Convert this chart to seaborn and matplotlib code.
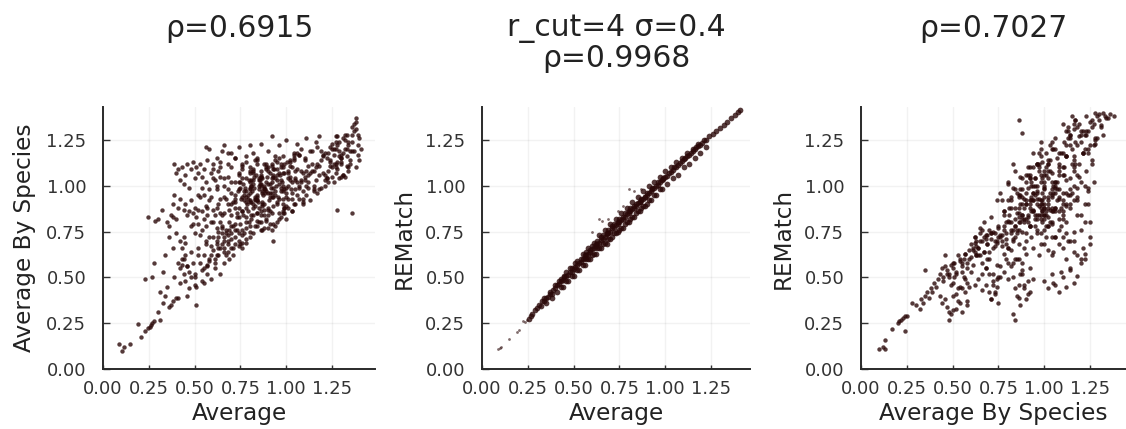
"""
Three scatter panels comparing similarity kernels, values read off the picture.
"""

import matplotlib
matplotlib.use("Agg")
import matplotlib.pyplot as plt
import pandas as pd
import seaborn as sns

# Panel 1: Average vs Average By Species
AVG_1 = [
    .09, .105, .115, .145, .19, .21, .23, .245, .26, .27, .28, .255,
    .245, .23, .27, .28, .285, .30, .32, .31, .33, .34, .30, .31,
    .33, .35, .36, .37, .38, .39, .40, .41, .42, .34, .36, .38,
    .35, .37, .38, .39, .40, .41, .42, .43, .44, .45, .36, .38,
    .40, .42, .43, .41, .44, .45, .46, .47, .48, .49, .50, .46,
    .39, .40, .41, .42, .43, .44, .45, .46, .47, .48, .49, .50,
    .51, .52, .53, .54, .55, .56, .57, .58, .59, .60, .61, .62,
    .63, .64, .65, .52, .54, .56, .58, .60, .62, .64, .66, .68,
    .42, .44, .45, .46, .47, .48, .49, .50, .51, .52, .53, .54,
    .55, .56, .57, .58, .59, .60, .48, .50, .52, .54, .56, .58,
    .50, .52, .54, .55, .56, .57, .58, .59, .60, .61, .62, .63,
    .64, .65, .66, .67, .68, .69, .70, .71, .72, .62, .64, .66,
    .60, .62, .63, .64, .65, .66, .67, .68, .69, .70, .71, .72,
    .73, .74, .75, .76, .77, .78, .70, .72, .74, .76, .78, .80,
    .62, .64, .66, .68, .70, .72, .74, .76, .78, .80, .66, .68,
    .70, .72, .74, .76, .78, .80, .82, .84, .66, .68, .70, .72,
    .74, .76, .78, .80, .82, .84, .70, .72, .74, .76, .78, .80,
    .81, .82, .83, .84, .85, .86, .87, .88, .89, .90, .91, .92,
    .79, .81, .83, .85, .87, .89, .91, .93, .95, .97, .99, 1.01,
    .80, .82, .84, .86, .88, .90, .92, .94, .96, .98, 1.00, 1.02,
    .78, .80, .82, .84, .86, .88, .90, .92, .94, .96, .98, 1.00,
    .81, .83, .85, .87, .89, .91, .93, .95, .97, .99, 1.01, 1.03,
    .82, .84, .86, .88, .90, .92, .94, .96, .98, 1.00, 1.02, 1.04,
    .85, .87, .89, .91, .93, .95, .97, .99, 1.01, 1.03, 1.05, 1.07,
    .84, .86, .88, .90, .92, .94, .96, .98, 1.00, 1.02, 1.04, 1.06,
    .86, .90, .93, .90, .93, .96, 1.00, .88, .92, .95, .98, 1.02,
    1.04, 1.06, 1.08, 1.10, 1.12, 1.14, 1.16, 1.18, 1.20, 1.22, 1.24, 1.26,
    1.05, 1.07, 1.09, 1.11, 1.13, 1.15, 1.17, 1.19, 1.21, 1.23, 1.25, 1.27,
    1.03, 1.06, 1.09, 1.12, 1.15, 1.18, 1.21, 1.24, 1.27, 1.30, 1.32, 1.34,
    1.08, 1.10, 1.12, 1.14, 1.16, 1.18, 1.20, 1.22, 1.24, 1.26, 1.28, 1.30,
    1.25, 1.27, 1.29, 1.31, 1.33, 1.35, 1.26, 1.28, 1.30, 1.32, 1.34, 1.36,
    1.28, 1.30, 1.31, 1.33, 1.35, 1.36, 1.37, 1.38, 1.39, 1.40, 1.41, 1.37,
    1.38, 1.39, 1.36, 1.38, 1.40, 1.39, 1.37, 1.38, 1.28, 1.36, .51, .93,
    # denser parts of the cloud
    .755, .775, .795, .815, .835, .855, .875, .895, .915, .935, .955, .975,
    .765, .785, .805, .825, .845, .865, .885, .905, .925, .945, .965, .985,
    .745, .77, .79, .81, .83, .85, .87, .89, .91, .93, .95, .97,
    .99, 1.01, 1.03, 1.05, .985, 1.005, 1.025, 1.045, .80, .83, .86, .89,
    .72, .735, .75, .765, .78, .795, .81, .825, .84, .855, .87, .885,
    .95, .97, .99, 1.01, 1.03, 1.05, 1.07, 1.09, 1.11, 1.13, 1.15, 1.17,
    1.19, 1.21, 1.23, 1.25, 1.27, 1.29, 1.31, 1.33, .92, .94, .96, .98,
    .53, .55, .57, .59, .61, .63, .65, .67, .69, .71, .73, .75,
    .66, .68, .70, .72, .74, .76, .78, .68, .70, .72, .74, .76,
    .80, .82, .84, .86, .80, .82, .84, .86, .88, .90, .78, .76,
    .55, .57, .59, .61, .63, .65, .67, .69, .71, .73, .75, .77,
    .60, .62, .64, .66, .68, .70, .72, .74, .76, .78, .80, .82,
    1.06, 1.08, 1.10, 1.12, 1.14, 1.16, 1.18, 1.20, 1.22, 1.24, 1.26, 1.28,
    1.07, 1.09, 1.11, 1.13, 1.15, 1.17, 1.19, 1.21, 1.23, 1.25, 1.27, 1.29,
    1.30, 1.32, 1.34, 1.36, 1.31, 1.33, 1.35, 1.30, 1.32, 1.34, 1.29, 1.27,
    .77, .80, .83, .86, .89, .92, .95, .98, 1.01, 1.04, 1.07, 1.10,
    .76, .79, .82, .85, .88, .91, .94, .97, 1.00, 1.03, 1.06, 1.09,
    .78, .81, .84, .87, .90, .93, .96, .99, 1.02, 1.05, 1.08, 1.11,
    .44, .46, .48, .50, .52, .54, .56, .58, .60, .62, .64, .66,
    .43, .45, .47, .49, .51, .53, .55, .57, .59, .61, .63, .65,
]
SPECIES_1 = [
    .135, .10, .12, .135, .245, .175, .21, .225, .24, .25, .26, .23,
    .83, .49, .50, .58, .81, .82, .87, .42, .36, .40, .31, .27,
    .53, .45, .34, .35, .37, .50, .39, .39, .47, .62, .72, .66,
    .80, .84, .90, .95, .74, .58, .55, .60, .52, .48, .78, .83,
    .82, .70, .66, .88, .72, .62, .56, .44, .50, .58, .46, .40,
    1.12, 1.07, 1.09, 1.03, 1.10, 1.01, 1.06, 1.12, .99, 1.09, 1.13, 1.04,
    1.10, 1.07, 1.12, 1.05, 1.09, 1.21, 1.14, 1.20, 1.07, 1.12, 1.03, 1.15,
    1.08, 1.13, 1.19, .95, .99, 1.02, .98, 1.04, 1.00, 1.05, 1.22, 1.18,
    .93, .87, .90, .84, .86, .92, .85, .88, .83, .87, .94, .86,
    .82, .89, .84, .92, .80, .87, .78, .74, .79, .76, .78, .72,
    .52, .62, .48, .55, .68, .52, .60, .49, .65, .55, .70, .62,
    .52, .68, .58, .74, .64, .60, .71, .62, .68, .77, .80, .72,
    .72, .68, .75, .66, .78, .70, .76, .68, .80, .74, .78, .72,
    .76, .70, .79, .66, .74, .71, .84, .88, .83, .86, .80, .75,
    .88, .93, .85, .90, .96, .91, .98, .94, .88, .92, 1.00, 1.05,
    1.10, 1.02, 1.07, 1.12, 1.04, .98, 1.08, 1.14, .94, .98, .90, .95,
    1.02, .86, .94, .99, .90, .85, 1.18, 1.15, 1.21, 1.09, 1.13, 1.22,
    .82, .88, .78, .92, .80, .86, .76, .90, .82, .87, .79, .85,
    .95, 1.00, .93, 1.04, .96, 1.02, .94, .99, .91, .97, .88, .93,
    1.08, 1.03, 1.12, 1.06, 1.00, 1.10, 1.04, 1.14, 1.01, 1.07, .96, 1.03,
    .97, .91, 1.01, .94, 1.05, .98, 1.08, .96, 1.04, .93, 1.00, .89,
    .84, .92, 1.00, .89, .97, .86, 1.06, .90, 1.10, .98, 1.07, .93,
    1.18, 1.15, 1.23, 1.12, 1.19, 1.27, 1.16, 1.22, 1.10, 1.25, 1.14, 1.18,
    1.03, .97, 1.09, 1.01, .94, 1.06, .99, 1.12, 1.04, .96, 1.08, 1.00,
    .92, 1.05, .99, .88, 1.02, .95, 1.07, .85, .99, 1.11, .90, 1.02,
    1.01, .96, 1.05, .84, .79, .85, .82, .77, 1.12, 1.09, 1.16, 1.13,
    1.14, .95, 1.20, 1.03, .99, 1.08, 1.24, .98, 1.17, 1.04, 1.21, 1.12,
    1.03, 1.17, .90, 1.26, 1.07, 1.00, 1.12, 1.19, 1.06, 1.18, 1.10, 1.24,
    .86, 1.23, .93, 1.11, .98, 1.27, 1.03, 1.14, 1.20, 1.13, 1.05, 1.22,
    1.08, 1.14, 1.02, 1.19, 1.10, 1.06, 1.16, 1.04, 1.13, 1.20, 1.09, 1.15,
    1.23, 1.10, 1.16, 1.06, 1.20, 1.12, 1.02, 1.27, 1.15, 1.25, 1.08, 1.19,
    1.22, 1.05, 1.18, 1.28, 1.14, 1.24, 1.19, 1.10, 1.17, 1.14, 1.20, 1.30,
    1.35, 1.28, 1.32, 1.31, 1.26, 1.22, 1.34, 1.37, .87, .85, .35, .70,
    # denser parts of the cloud
    .93, .99, 1.03, .97, 1.06, 1.01, .95, 1.05, .99, 1.09, .94, 1.02,
    1.01, .90, .96, 1.05, .91, 1.08, .98, .92, 1.11, 1.00, 1.06, .97,
    .88, .95, .86, 1.00, .94, .88, 1.04, 1.10, .96, .89, 1.13, 1.03,
    1.07, 1.00, 1.10, 1.04, .93, 1.13, .98, 1.17, 1.10, 1.14, .84, .81,
    .93, .97, 1.02, .84, .91, .80, .91, .99, .85, 1.03, .90, .96,
    .80, .83, .85, .88, .86, .90, .93, .91, .95, .92, .97, .96,
    .99, 1.00, 1.02, 1.05, 1.07, 1.04, 1.06, 1.11, .76, .78, .82, .86,
    .58, .47, .57, .62, .60, .66, .74, .62, .76, .66, .83, .68,
    .64, .70, .66, .76, .67, .73, .69, .73, .78, .79, .74, .69,
    .72, .74, .78, .80, .78, .84, .81, .76, .84, .77, .77, .76,
    .95, .88, .94, .84, .90, .84, .93, .87, .91, .85, .99, .92,
    1.09, .98, 1.10, 1.04, 1.12, 1.02, 1.15, 1.06, 1.11, 1.16, 1.02, 1.07,
    1.09, 1.02, 1.15, 1.06, 1.12, 1.03, 1.11, 1.07, 1.15, 1.11, 1.17, 1.13,
    1.17, 1.07, 1.00, 1.19, 1.08, 1.21, 1.14, 1.18, 1.08, 1.20, 1.12, 1.24,
    1.17, 1.20, 1.24, 1.28, 1.26, 1.16, 1.19, 1.12, 1.28, 1.10, 1.19, 1.27,
    .97, 1.07, .89, 1.00, 1.12, .94, 1.03, .90, 1.08, 1.15, .99, 1.05,
    1.04, .93, 1.09, .98, .87, 1.07, .97, 1.12, .94, 1.02, 1.18, .97,
    .83, 1.03, .95, .91, 1.01, 1.09, 1.15, .88, 1.05, .98, 1.03, 1.08,
    .60, .56, .64, .50, .66, .54, .70, .59, .80, .62, .85, .66,
    .57, .69, .53, .79, .45, .73, .62, .56, .67, .58, .72, .77,
]

# Panel 2: Average vs REMatch, isolated points first, then the dense band
TAIL_X_2 = [.09, .10, .105, .15, .19, .20, .225, .235, .245, .64, .655, .69,
            .60, .77, .74, .80, .83, .87]
TAIL_Y_2 = [.11, .115, .12, .165, .20, .215, .26, .255, .27, .82, .81, .82,
            .75, .89, .86, .98, .97, .98]
AVG_2 = [
    .255, .265, .275,
    .29, .30, .31, .32, .33, .34, .35, .36, .37, .38, .39, .40,
    .41, .42, .43, .44, .45, .46, .47, .48, .49, .50, .51, .52,
    .53, .54, .55, .56, .57, .58, .59, .60, .61, .62, .63, .64,
    .65, .66, .67, .68, .69, .70, .71, .72, .73, .74, .75, .76,
    .77, .78, .79, .80, .81, .82, .83, .84, .85, .86, .87, .88,
    .89, .90, .91, .92, .93, .94, .95, .96, .97, .98, .99, 1.00,
    1.01, 1.02, 1.03, 1.04, 1.05, 1.06, 1.07, 1.08, 1.09, 1.10, 1.11, 1.12,
    1.13, 1.14, 1.15, 1.16, 1.17, 1.18, 1.19, 1.20, 1.22, 1.24, 1.26, 1.28,
    1.30, 1.32, 1.34, 1.36, 1.38, 1.40, 1.41,
    .34, .37, .40, .43, .46, .49, .52, .55, .58, .61, .64, .67,
    .70, .73, .76, .79, .82, .85, .88, .91, .94, .97, 1.00, 1.03,
    1.06, 1.09, 1.12, 1.15, 1.18, 1.21,
    .35, .38, .41, .44, .47, .50, .53, .56, .59, .62, .65, .68,
    .71, .74, .77, .80, .83, .86, .89, .92, .95, .98, 1.01, 1.04,
    1.07, 1.10, 1.13, 1.16, 1.19, 1.22,
    .42, .45, .48, .51, .54, .57, .60, .63, .66, .69, .72, .75,
    .78, .81, .84, .87, .90, .93, .96, .99,
    .43, .46, .49, .52, .55, .58, .61, .64, .67, .70, .73, .76,
    .79, .82, .85, .88, .91, .94, .97,
    .56, .59, .62, .65, .68, .71, .74, .77, .80, .83, .86, .89,
    .57, .60, .63, .66, .69, .72, .75, .78, .81, .84, .87, .90,
]
REMATCH_2 = [
    .275, .29, .30,
    .32, .335, .35, .345, .37, .37, .385, .395, .41, .41, .43, .44,
    .46, .465, .48, .485, .50, .505, .515, .53, .53, .545, .555, .565,
    .58, .585, .60, .605, .625, .63, .64, .655, .66, .67, .685, .69,
    .705, .71, .72, .735, .74, .75, .77, .77, .785, .79, .80, .815,
    .82, .83, .845, .85, .86, .875, .88, .89, .905, .91, .92, .93,
    .94, .95, .96, .97, .98, .99, 1.00, 1.005, 1.02, 1.03, 1.035, 1.05,
    1.055, 1.07, 1.075, 1.085, 1.10, 1.105, 1.115, 1.125, 1.135, 1.145, 1.15, 1.16,
    1.17, 1.18, 1.19, 1.20, 1.21, 1.215, 1.225, 1.235, 1.25, 1.27, 1.285, 1.30,
    1.315, 1.33, 1.35, 1.37, 1.385, 1.405, 1.415,
    .39, .42, .46, .49, .53, .55, .59, .63, .66, .69, .73, .76,
    .79, .82, .85, .88, .91, .94, .97, 1.00, 1.02, 1.05, 1.08, 1.10,
    1.13, 1.15, 1.18, 1.20, 1.23, 1.25,
    .36, .39, .42, .45, .48, .51, .54, .57, .60, .63, .66, .68,
    .72, .75, .77, .80, .83, .86, .89, .92, .95, .98, 1.01, 1.04,
    1.06, 1.10, 1.12, 1.15, 1.18, 1.21,
    .48, .51, .55, .58, .60, .64, .67, .70, .73, .76, .79, .82,
    .85, .88, .90, .93, .96, .99, 1.02, 1.04,
    .45, .48, .51, .54, .57, .60, .63, .66, .69, .71, .74, .77,
    .80, .83, .86, .89, .92, .95, .98,
    .62, .65, .68, .72, .74, .78, .80, .83, .86, .89, .91, .94,
    .60, .62, .66, .68, .71, .74, .76, .79, .82, .85, .88, .90,
]

# Panel 3: Average By Species vs REMatch
SPECIES_3 = [
    .10, .12, .13, .13, .17, .20, .21, .22, .23, .24, .24, .25,
    .28, .30, .32, .33, .34, .35, .36, .37, .38, .39, .40, .41,
    .35, .42, .43, .44, .45, .46, .47, .48, .49, .50, .51, .52,
    .43, .44, .46, .47, .48, .48, .50, .52, .53, .55, .57, .58,
    .53, .54, .55, .56, .57, .58, .59, .60, .61, .62, .63, .64,
    .48, .50, .52, .54, .56, .58, .60, .62, .64, .66, .68, .62,
    .60, .62, .64, .65, .66, .67, .68, .69, .70, .71, .72, .73,
    .74, .75, .76, .77, .78, .79, .80, .63, .65, .67, .69, .71,
    .66, .68, .70, .72, .74, .76, .78, .80, .82, .84, .86, .88,
    .68, .70, .71, .72, .73, .74, .75, .66, .76, .78, .79, .80,
    .82, .83, .84, .85, .86, .87, .88, .89, .90, .91, .92, .94,
    .82, .84, .86, .88, .90, .92, .94, .96, .98, 1.00, 1.02, 1.04,
    .78, .80, .82, .84, .86, .88, .90, .92, .94, .96, .98, 1.00,
    .74, .76, .78, .80, .82, .84, .86, .88, .90, .92, .94, .96,
    .80, .82, .84, .86, .88, .90, .92, .94, .96, .98, 1.00, 1.02,
    .84, .86, .88, .90, .92, .94, .96, .98, 1.00, 1.02, 1.04, 1.06,
    .88, .90, .92, .94, .96, .98, 1.00, 1.02, 1.04, 1.06, 1.08, 1.10,
    .92, .94, .96, .98, 1.00, 1.02, 1.04, 1.06, 1.08, 1.10, 1.12, 1.14,
    .94, .96, .98, 1.00, 1.02, 1.04, 1.06, 1.08, 1.10, 1.12, 1.14, 1.16,
    .98, 1.00, 1.02, 1.04, 1.06, 1.08, 1.10, 1.12, 1.14, 1.16, 1.18, 1.20,
    1.00, 1.02, 1.04, 1.06, 1.08, 1.10, 1.12, 1.14, 1.16, 1.18, 1.20, 1.22,
    1.02, 1.04, 1.06, 1.08, 1.10, 1.12, 1.14, 1.16, 1.18, 1.20, 1.22, 1.24,
    1.06, 1.08, 1.10, 1.12, 1.14, 1.16, 1.18, 1.20, 1.22, 1.24, 1.26, 1.28,
    1.10, 1.12, 1.14, 1.16, 1.18, 1.20, 1.22, 1.24, 1.26, 1.28, 1.30, 1.32,
    1.13, 1.15, 1.17, 1.19, 1.21, 1.23, 1.25, 1.27, 1.29, 1.31, 1.33, 1.35,
    1.15, 1.17, 1.19, 1.21, 1.23, 1.26, 1.28, 1.30, 1.32, 1.34, 1.36, 1.38,
    .83, .84, .85, .86, .87, .88, .89, .90, .91, .92, .83, .86,
    .70, .71, .72, .73, .74, .75, .49, .50, .52, .54, .55, .58,
    1.00, 1.02, 1.04, 1.06, 1.08, 1.10, 1.12, 1.14, 1.16, 1.18, 1.20, 1.22,
    1.08, 1.10, 1.12, 1.14, 1.05, 1.09, 1.13, 1.16, .97, .99, 1.01, 1.03,
    .86, .88, .83, 1.22, 1.25, 1.24, 1.25, 1.27, 1.20, 1.21, 1.24, 1.25,
    # denser parts of the cloud
    .85, .87, .89, .91, .93, .95, .97, .99, 1.01, 1.03, 1.05, 1.07,
    .86, .88, .90, .92, .94, .96, .98, 1.00, 1.02, 1.04, 1.06, 1.08,
    .87, .89, .91, .93, .95, .97, .99, 1.01, 1.03, 1.05, 1.07, 1.09,
    .90, .92, .94, .96, .98, 1.00, 1.02, 1.04, 1.06, 1.08, 1.10, 1.12,
    .91, .93, .95, .97, .99, 1.01, 1.03, 1.05, 1.07, 1.09, 1.11, 1.13,
    .95, .97, .99, 1.01, 1.03, 1.05, 1.07, 1.09, 1.11, 1.13, 1.15, 1.17,
    .96, .98, 1.00, 1.02, 1.04, 1.06, 1.08, 1.10, 1.12, 1.14, 1.16, 1.18,
    1.11, 1.13, 1.15, 1.17, 1.19, 1.21, 1.23, 1.25, 1.27, 1.29, 1.31, 1.16,
    1.12, 1.14, 1.16, 1.18, 1.20, 1.22, 1.24, 1.26, 1.28, 1.19, 1.21, 1.23,
    .61, .63, .65, .67, .69, .71, .73, .75, .77, .79, .81, .83,
    .62, .64, .66, .68, .70, .72, .74, .76, .78, .80, .82, .84,
    .55, .57, .59, .61, .63, .65, .67, .69, .71, .73, .75, .77,
    .78, .80, .82, .84, .86, .88, .90, .92, .94, .96, .98, 1.00,
    .79, .81, .83, .85, .87, .89, .91, .93, .95, .97, .99, 1.01,
    .77, .79, .81, .83, .85, .87, .89, .91, .93, .95, .97, .99,
    .83, .85, .87, .89, .91, .93, .95, .97, .99, 1.01, 1.03, 1.05,
    1.00, 1.02, 1.04, 1.06, 1.08, 1.10, 1.12, 1.14, 1.16, 1.18, 1.00, 1.04,
    .45, .47, .49, .51, .53, .55, .57, .59, .46, .50, .54, .58,
]
REMATCH_3 = [
    .11, .12, .16, .11, .22, .25, .26, .27, .28, .29, .21, .29,
    .36, .35, .33, .38, .36, .40, .42, .39, .44, .42, .47, .45,
    .54, .49, .52, .55, .50, .56, .54, .52, .57, .55, .58, .53,
    .40, .36, .38, .34, .31, .27, .40, .33, .37, .31, .42, .35,
    .62, .59, .56, .60, .63, .58, .65, .61, .57, .64, .67, .62,
    .50, .47, .52, .45, .50, .47, .53, .46, .49, .52, .55, .69,
    .68, .72, .66, .74, .70, .64, .73, .68, .76, .71, .66, .74,
    .70, .78, .72, .67, .76, .71, .66, .62, .77, .80, .73, .83,
    .58, .55, .60, .52, .57, .50, .63, .58, .65, .60, .68, .54,
    .46, .42, .38, .48, .41, .45, .50, .43, .56, .53, .60, .49,
    .56, .50, .44, .60, .39, .52, .58, .46, .63, .41, .55, .49,
    .76, .72, .80, .75, .70, .78, .66, .74, .68, .76, .65, .72,
    .86, .92, .80, .88, .95, .84, .90, .78, .86, .93, .82, .88,
    .92, .96, .84, 1.02, .88, .98, .83, .94, 1.06, .90, 1.00, 1.12,
    1.01, .94, 1.08, .88, 1.04, .96, 1.10, .92, 1.00, .84, .94, .88,
    .78, .85, .82, .90, .78, .92, .84, .88, .82, .90, .79, .86,
    .98, .92, 1.06, .96, 1.12, .90, .98, 1.04, .94, .99, .86, .92,
    1.04, 1.10, .96, 1.16, 1.00, 1.08, .95, 1.02, .93, 1.06, .90, .98,
    1.18, 1.12, 1.24, 1.06, 1.14, 1.20, 1.00, 1.10, .82, .96, .88, .92,
    .74, .68, .78, .62, .72, .76, .66, .80, .70, .75, .62, .60,
    .84, .78, .88, .72, .82, .86, .74, .90, .70, .84, .76, .80,
    1.12, 1.02, 1.20, 1.08, .96, 1.16, 1.04, 1.10, .94, 1.02, .90, .99,
    1.26, 1.18, 1.10, 1.30, 1.22, 1.14, 1.06, 1.28, 1.00, 1.18, 1.12, 1.23,
    1.34, 1.22, 1.28, 1.16, 1.32, 1.24, 1.20, 1.30, 1.14, 1.26, 1.36, 1.28,
    1.30, 1.38, 1.24, 1.34, 1.18, 1.28, 1.35, 1.22, 1.38, 1.33, 1.38, 1.37,
    1.12, 1.36, 1.05, 1.30, 1.38, 1.32, 1.40, 1.39, 1.40, 1.37, 1.39, 1.38,
    .30, .27, .40, .46, .35, .52, .44, .38, .48, .42, .58, .60,
    .52, .38, .46, .42, .49, .36, .30, .32, .41, .36, .44, .37,
    .48, .44, .52, .46, .42, .50, .45, .54, .47, .51, .58, .63,
    .68, .72, .60, .55, .47, .53, .70, .64, 1.12, 1.04, 1.18, 1.08,
    1.36, 1.29, 1.12, .60, .80, .97, .72, 1.02, .84, .66, .90, .68,
    # denser parts of the cloud
    .85, .95, .88, .80, .92, 1.00, .84, .90, .78, .96, .86, 1.02,
    .76, .90, .82, 1.04, .87, .97, .92, 1.08, .83, .98, .88, 1.12,
    .98, .80, 1.06, .94, .84, 1.10, .96, .86, 1.14, 1.00, .92, 1.18,
    .74, .92, .86, .76, 1.02, .88, 1.12, .80, .96, 1.06, .84, 1.16,
    1.10, 1.00, .82, 1.18, .92, 1.06, .87, 1.20, .98, .78, 1.10, .95,
    1.04, .89, 1.13, .84, 1.22, .96, 1.15, .88, 1.06, 1.26, .96, 1.12,
    .90, 1.20, .99, .92, 1.24, 1.02, .94, 1.18, .89, 1.28, 1.08, .99,
    1.24, 1.32, 1.20, 1.36, 1.27, 1.18, 1.30, 1.22, 1.34, 1.26, 1.32, 1.31,
    1.16, 1.26, 1.34, 1.22, 1.30, 1.28, 1.20, 1.36, 1.25, 1.12, 1.18, 1.08,
    .65, .70, .62, .72, .68, .74, .70, .77, .73, .68, .80, .71,
    .72, .66, .76, .71, .64, .75, .69, .73, .78, .66, .74, .82,
    .58, .63, .60, .66, .62, .70, .64, .60, .74, .67, .72, .70,
    .86, .81, .92, .78, .94, .84, 1.02, .88, .96, .82, 1.06, .90,
    .80, .88, .76, .96, .90, .82, .99, .86, 1.04, .93, .80, 1.10,
    .92, .74, .84, .99, .76, 1.05, .93, .84, 1.02, .95, 1.08, .86,
    .70, .74, .80, .66, .83, .72, .78, .62, .86, .72, .80, .64,
    1.02, .94, 1.07, .88, .98, .90, 1.03, .95, 1.00, .92, .84, .86,
    .48, .52, .46, .50, .44, .53, .49, .45, .62, .58, .60, .55,
]

# Panel text
TICKS = [0.0, 0.25, 0.5, 0.75, 1.0, 1.25]
TICK_LABELS = ["0.00", "0.25", "0.50", "0.75", "1.00", "1.25"]
XLABELS = ["Average", "Average", "Average By Species"]
YLABELS = ["Average By Species", "REMatch", "REMatch"]
TITLES = ["ρ=0.6915", "r_cut=4 σ=0.4\nρ=0.9968", "ρ=0.7027"]

sns.set_theme(style="ticks")
plt.rcParams["font.family"] = ["DejaVu Sans"]

W, H = 1126, 429
fig = plt.figure(figsize=(W / 100, H / 100), dpi=100, facecolor="white")

panels = [
    (AVG_1, SPECIES_1, 103, 272, 10),
    (AVG_2, REMATCH_2, 482, 268, 17),
    (SPECIES_3, REMATCH_3, 861, 265, 10),
]

for i, (xs, ys, left, width, size) in enumerate(panels):
    ax = fig.add_axes([left / W, (H - 369) / H, width / W, 262 / H])
    df = pd.DataFrame({"x": xs, "y": ys})
    sns.scatterplot(data=df, x="x", y="y", ax=ax, s=size, color="#2a0808",
                    alpha=0.8, linewidth=0, zorder=3)
    if i == 1:
        sns.scatterplot(x=TAIL_X_2, y=TAIL_Y_2, ax=ax, s=4, color="#2a0808",
                        alpha=0.6, linewidth=0, zorder=3)
    ax.set_xlim(0, width / 183.2)
    ax.set_ylim(0, 262 / 183.2)
    ax.set_xticks(TICKS, TICK_LABELS)
    ax.set_yticks(TICKS, TICK_LABELS)
    ax.grid(True, color="#000000", alpha=0.05, lw=1)
    ax.set_axisbelow(True)
    ax.tick_params(axis="x", direction="in", length=3, width=1, color="#333333",
                   labelsize=13, labelcolor="#333333", pad=8)
    ax.tick_params(axis="y", direction="in", length=5, width=1, color="#333333",
                   labelsize=13, labelcolor="#333333", pad=12)
    sns.despine(ax=ax)
    for side in ["left", "bottom"]:
        ax.spines[side].set_color("#2a2a2a")
        ax.spines[side].set_linewidth(1.4)
    ax.set_xlabel(XLABELS[i], fontsize=16.7, color="#222222", labelpad=3)
    ax.set_ylabel(YLABELS[i], fontsize=16.7, color="#222222", labelpad=7)
    ax.set_title(TITLES[i], fontsize=21.4, color="#222222", y=1.325, va="top",
                 linespacing=1.08)

fig.savefig("out.png", dpi=100)
